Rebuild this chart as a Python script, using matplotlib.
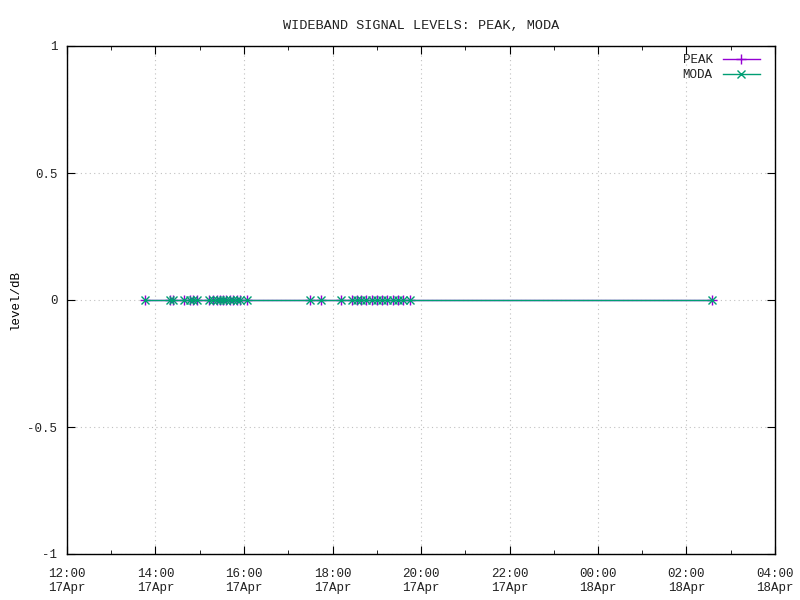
import datetime as dt
import matplotlib
matplotlib.use("Agg")
import matplotlib.pyplot as plt
import matplotlib.dates as mdates

# sample times (17 Apr unless past midnight)
times = ["13:46", "14:20", "14:24", "14:38", "14:47", "14:51", "14:56", "15:12",
         "15:18", "15:23", "15:27", "15:32", "15:36", "15:41", "15:45", "15:50",
         "15:54", "16:04", "17:30", "17:44", "18:12", "18:26", "18:33", "18:38",
         "18:46", "18:53", "19:00", "19:07", "19:14", "19:22", "19:29", "19:36",
         "19:45", "02:35"]
peak = [0.0] * len(times)
moda = [0.0] * len(times)

base = dt.datetime(2024, 4, 17)
t = []
prev = None
day = 0
for s in times:
    hh, mm = map(int, s.split(":"))
    if prev is not None and hh < prev:
        day += 1
    prev = hh
    t.append(base + dt.timedelta(days=day, hours=hh, minutes=mm))

plt.rcParams["font.family"] = ["Liberation Mono", "DejaVu Sans Mono"]
plt.rcParams["font.size"] = 9
plt.rcParams["text.color"] = "#222222"
plt.rcParams["xtick.labelcolor"] = "#222222"
plt.rcParams["ytick.labelcolor"] = "#222222"

fig = plt.figure(figsize=(8, 6), dpi=100)
ax = fig.add_axes([67/800, 1-554/600, 708/800, 508/600])

ax.plot(t, peak, color="#9400d3", marker="+", ms=7, mew=1, lw=1, label="PEAK")
ax.plot(t, moda, color="#009e73", marker="x", ms=6, mew=1, lw=1, label="MODA")

ax.set_xlim(base + dt.timedelta(hours=12), base + dt.timedelta(hours=28))
ax.set_ylim(-1, 1)
ax.xaxis.set_major_locator(mdates.HourLocator(byhour=range(0, 24, 2)))
ax.xaxis.set_minor_locator(mdates.HourLocator())
ax.xaxis.set_major_formatter(mdates.DateFormatter("%H:%M\n%d%b"))
ax.set_yticks([-1, -0.5, 0, 0.5, 1])
ax.set_yticklabels(["-1", "-0.5", "0", "0.5", "1"])
ax.tick_params(which="both", direction="in", top=True, right=True)
ax.tick_params(which="major", length=6)
ax.tick_params(which="minor", length=3)
ax.tick_params(axis="x", pad=10)
ax.tick_params(axis="y", pad=7)
ax.grid(True, which="major", color="#c0c0c0", ls=(0, (1, 3)), lw=0.8)
for sp in ax.spines.values():
    sp.set_linewidth(1)

ax.set_title("WIDEBAND SIGNAL LEVELS: PEAK, MODA", pad=12, fontsize=9.7)
ax.set_ylabel("level/dB")
ax.yaxis.set_label_coords(-0.065, 0.5)
ax.legend(loc="upper right", frameon=False, markerfirst=False, handlelength=3.0,
          borderaxespad=0, borderpad=0, labelspacing=0.25, handletextpad=0.8,
          bbox_to_anchor=((760 - 67) / 708, (554 - 54) / 508))

fig.savefig("out.png", dpi=100)
